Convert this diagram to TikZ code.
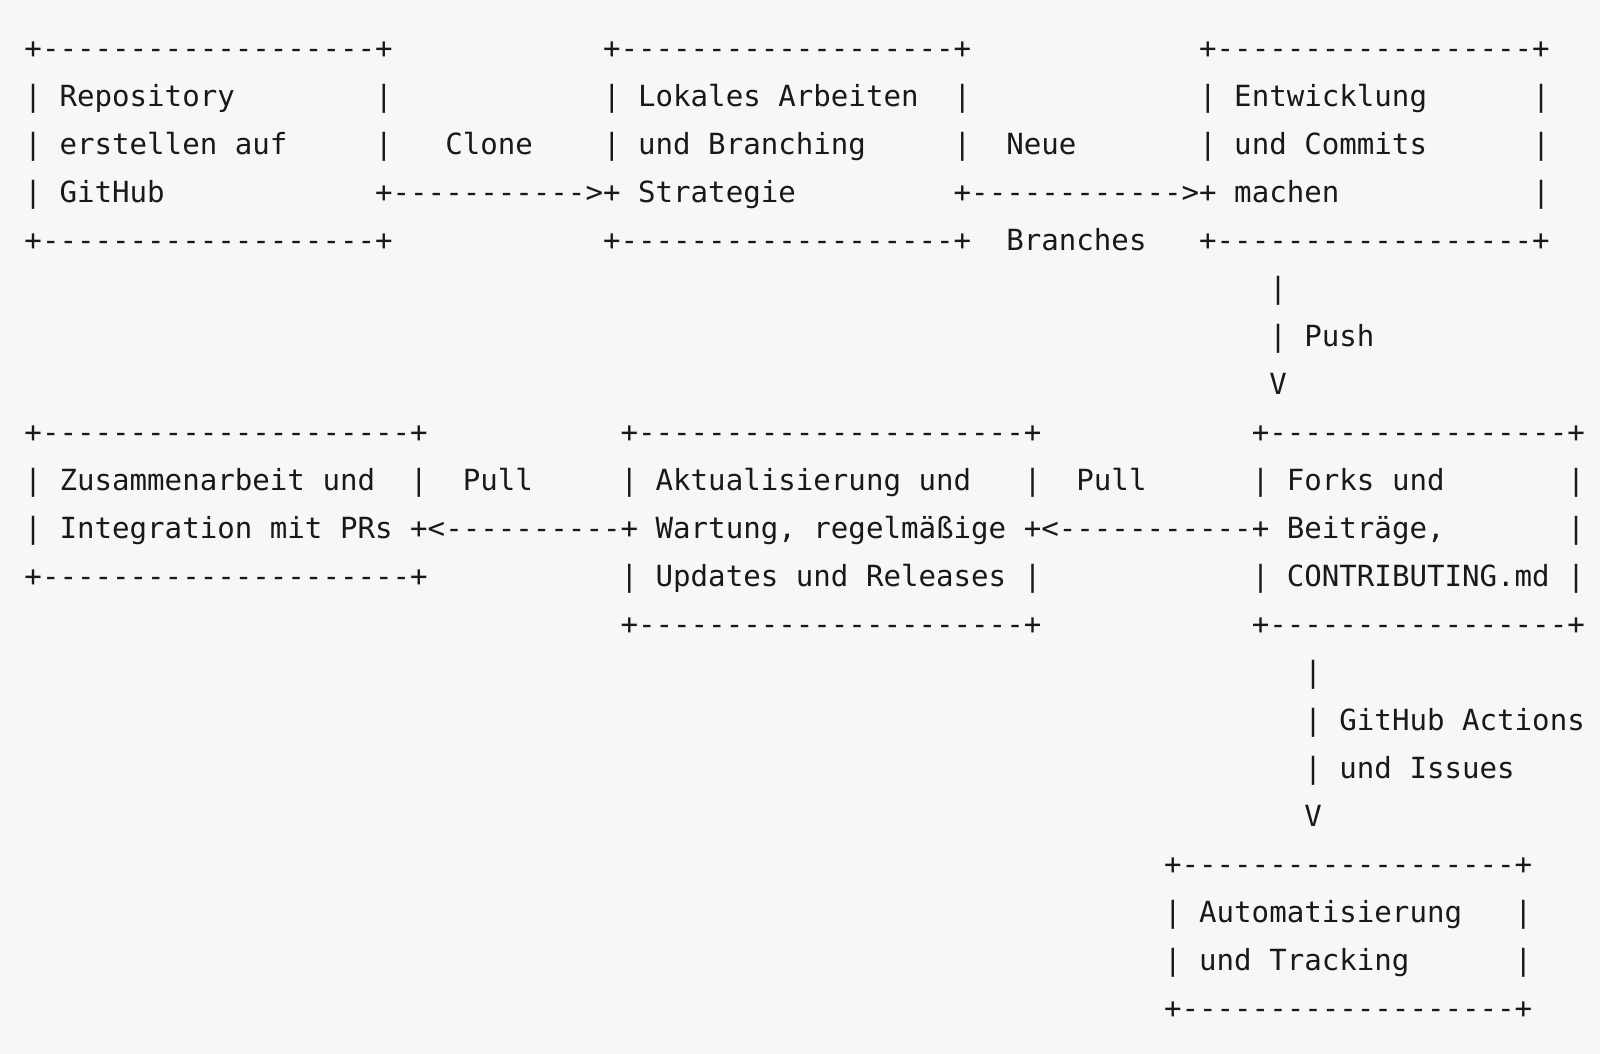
\documentclass[tikz,border=0pt]{standalone}
\usepackage{fontspec}
\setmonofont{DejaVu Sans Mono}
\usepackage{xcolor}
\definecolor{paper}{RGB}{247,247,247}
\definecolor{ink}{RGB}{25,25,25}
\ExplSyntaxOn
\newcommand\asciidash[1]{\prg_replicate:nn{#1}{-}}
\ExplSyntaxOff

\begin{document}
\begin{tikzpicture}[x=8.766pt, y=-24pt, every node/.style={inner sep=0pt, outer sep=0pt, anchor=north west, align=left, text=ink, font=\ttfamily\fontsize{14.56pt}{24pt}\selectfont}]
  \fill[paper] (0pt,0pt) rectangle (800pt,-527pt);
  \useasboundingbox (0pt,0pt) rectangle (800pt,-527pt);
  \begin{scope}[shift={(12.25pt,-12.45pt)}]
  % obere Reihe
  \node(repo) at (0,0) {\strut+\asciidash{19}+\\%
    | Repository~~~~~~~~|\\%
    | erstellen auf~~~~~|\\%
    | GitHub~~~~~~~~~~~~+\\%
    +\asciidash{19}+};
  \node(clone) at (21,2) {\strut~~~Clone\\%
    \asciidash{11}>};
  \node(lokal) at (33,0) {\strut+\asciidash{19}+\\%
    | Lokales Arbeiten~~|\\%
    | und Branching~~~~~|\\%
    + Strategie~~~~~~~~~+\\%
    +\asciidash{19}+};
  \node(branches) at (54,2) {\strut~~Neue\\%
    \asciidash{12}>\\%
    ~~Branches};
  \node(entw) at (67,0) {\strut+\asciidash{18}+\\%
    | Entwicklung~~~~~~|\\%
    | und Commits~~~~~~|\\%
    + machen~~~~~~~~~~~|\\%
    +\asciidash{18}+};
  \node(push) at (71,5) {\strut|\\%
    |~Push\\%
    V};
  % mittlere Reihe
  \node(zus) at (0,8) {\strut+\asciidash{21}+\\%
    | Zusammenarbeit und~~|\\%
    | Integration mit PRs +\\%
    +\asciidash{21}+};
  \node(pullA) at (23,9) {\strut~~Pull\\%
    <\asciidash{10}};
  \node(akt) at (34,8) {\strut+\asciidash{22}+\\%
    | Aktualisierung und~~~|\\%
    + Wartung, regelmäßige +\\%
    | Updates und Releases |\\%
    +\asciidash{22}+};
  \node(pullB) at (58,9) {\strut~~Pull\\%
    <\asciidash{11}};
  \node(forks) at (70,8) {\strut+\asciidash{17}+\\%
    | Forks und~~~~~~~|\\%
    + Beiträge,~~~~~~~|\\%
    | CONTRIBUTING.md |\\%
    +\asciidash{17}+};
  \node(actions) at (73,13) {\strut|\\%
    |~GitHub Actions\\%
    |~und Issues\\%
    V};
  % unten
  \node(auto) at (65,17) {\strut+\asciidash{19}+\\%
    | Automatisierung~~~|\\%
    | und Tracking~~~~~~|\\%
    +\asciidash{19}+};
  \end{scope}
\end{tikzpicture}
\end{document}
